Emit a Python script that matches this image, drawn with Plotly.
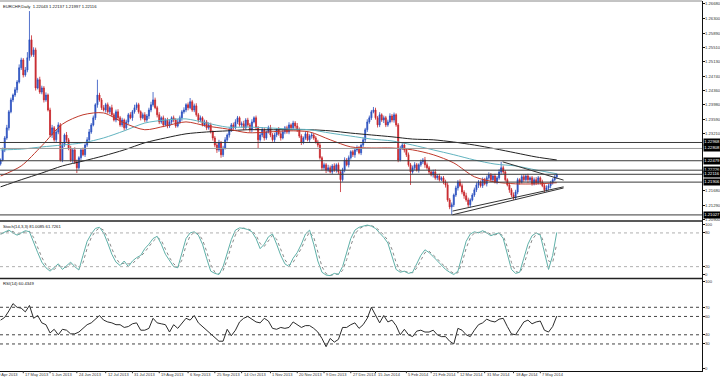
import plotly.graph_objects as go
import pandas as pd

# ---------------- data (prices in pips: 1.2250 -> 12250) ----------------
first_open_pips = 12240
closes_pips = [
    12250,12277,12309,12336,12379,12411,12424,12438,12459,12497,12518,12478,12491,12524,12572,12532,12545,
    12443,12465,12432,12443,12411,12424,12384,12317,12336,12304,12325,12344,12250,12290,12317,12304,12282,
    12250,12277,12245,12229,12256,12277,12264,12290,12304,12325,12344,12363,12398,12424,12411,12390,
    12384,12398,12379,12390,12371,12357,12379,12363,12344,12357,12336,12352,12371,12363,12379,12390,12398,
    12379,12363,12371,12357,12368,12384,12398,12411,12390,12371,12352,12363,12344,12357,12341,12352,12363,
    12357,12341,12352,12363,12379,12384,12398,12390,12406,12384,12395,12371,12357,12363,12344,12352,12336,
    12344,12325,12309,12290,12277,12296,12264,12282,12304,12317,12331,12344,12336,12352,12363,12344,
    12347,12336,12357,12344,12331,12352,12363,12336,12304,12317,12331,12309,12325,12336,12317,12304,12317,
    12331,12320,12309,12325,12336,12325,12344,12336,12349,12341,12331,12314,12298,12309,12320,12304,12314,
    12317,12309,12298,12290,12256,12229,12237,12223,12229,12218,12234,12223,12237,12218,12197,12223,12250,
    12237,12256,12272,12264,12277,12282,12269,12290,12304,12331,12352,12363,12379,12384,12363,12344,
    12371,12357,12363,12344,12352,12368,12357,12371,12344,12250,12282,12290,12277,12264,12237,12218,12229,
    12237,12223,12237,12245,12250,12237,12229,12218,12210,12218,12202,12207,12197,12202,12191,12183,
    12143,12124,12130,12156,12175,12191,12181,12164,12154,12143,12130,12143,12156,12170,12183,12191,12181,
    12197,12186,12202,12210,12197,12207,12191,12202,12218,12229,12218,12197,12183,12170,12156,12148,12164,
    12197,12191,12205,12197,12207,12197,12202,12186,12197,12189,12202,12191,12181,12170,12175,12181,12189,
    12197,12204.3,12211.6,
]
upper_wick_pips = [
    4,6,5,8,5,6,4,7,5,9,6,5,8,15,77,12,7,6,5,8,
    6,5,7,4,6,8,5,6,7,5,6,4,8,5,6,5,7,6,4,5,
    6,5,7,8,5,6,4,41,6,5,7,5,6,4,8,5,6,7,5,6,
    4,6,5,7,5,8,6,5,4,6,7,5,6,8,21,6,5,7,4,6,
    5,6,7,4,6,5,8,6,5,7,4,6,10,5,6,7,5,6,4,6,
    5,7,6,4,5,6,8,5,6,7,4,6,5,6,7,5,4,6,8,5,
    6,5,7,4,6,5,6,7,5,4,6,8,5,6,4,7,5,6,5,6,
    7,4,6,5,8,6,5,4,6,7,5,6,4,5,6,7,4,6,5,8,
    6,5,7,4,6,5,6,7,5,6,4,5,6,7,5,4,6,5,7,6,
    5,8,6,5,7,4,6,5,6,7,5,6,4,5,6,5,7,4,6,5,
    6,7,5,4,6,5,8,6,5,4,6,7,5,6,4,5,6,7,5,6,
    4,6,5,7,6,5,8,6,4,5,6,7,5,4,6,5,6,7,5,4,
    6,5,7,16,6,5,4,6,5,7,6,5,4,6,7,5,6,4,5,6,
    7,5,4,6,5,7,6,5,4,6,2,
]
lower_wick_pips = [
    5,4,6,5,7,4,6,5,8,4,6,7,5,6,8,5,6,7,4,5,
    6,7,5,4,6,8,5,7,6,4,6,5,7,6,5,8,6,14,5,6,
    4,6,5,7,5,4,6,8,5,6,4,7,5,6,5,4,6,7,5,6,
    7,5,6,4,8,5,6,5,7,4,6,5,8,6,5,4,7,6,5,6,
    4,6,5,7,6,5,4,6,8,5,6,7,4,5,6,5,7,6,4,5,
    6,5,4,7,6,8,5,8,6,4,5,7,6,5,4,6,5,7,6,4,
    5,6,7,4,6,22,5,6,7,5,4,6,5,8,6,5,7,4,6,5,
    6,5,4,7,6,5,8,6,5,4,6,7,5,4,6,5,7,6,8,5,
    4,6,5,7,6,33,5,6,4,7,5,6,8,5,4,6,5,7,6,5,
    6,4,5,7,6,5,8,6,5,4,6,7,5,6,4,5,7,6,5,35,
    5,6,4,7,5,6,8,5,6,4,7,5,6,5,4,6,7,5,6,21,
    6,5,7,4,6,8,5,6,7,4,5,6,8,5,6,4,7,5,6,5,
    4,6,5,7,6,5,4,8,6,5,5,6,7,4,6,5,8,6,5,4,
    6,5,7,4,6,5,6,7,5,4,5,
]

# moving averages, read every 10 bars
ma_idx = list(range(0, 271, 10))
red_ma_pips = [12207,12234,12288,12346,12371,12376,12349,12331,12341,12352,12341,12333,12323,12325,
               12328,12325,12304,12285,12282,12282,12277,12264,12242,12205,12191,12186,12186,12189]
teal_ma_pips = [12277,12279,12285,12290,12296,12309,12328,12349,12357,12360,12349,12338,12338,12336,
                12333,12331,12322,12314,12306,12301,12290,12277,12264,12250,12239,12234,12223,12213]
black_ma_pips = [12178,12197,12215,12234,12247,12261,12277,12296,12309,12320,12325,12328,12331,12331,
                 12331,12331,12328,12322,12317,12312,12306,12304,12298,12290,12280,12269,12258,12250]

# oscillators, read every 2 bars
osc_idx = list(range(0, 271, 2))
stoch_main = [78,82,85,80,76,80,84,82,62,45, 28,18,12,18,25,15,22,28,20,14,
              40,65,78,88,90,80,62,42,28,22, 30,20,30,36,40,52,60,70,74,60,
              42,30,20,18,45,70,80,82,76,60, 35,12,8,6,20,45,68,85,89,88,
              86,82,70,52,60,73,78,60,40,25, 20,35,45,60,78,85,60,30,10,5,
              4,8,6,20,45,70,85,90,92,94, 92,88,80,72,62,40,15,10,12,8,
              10,25,40,50,45,38,30,22,15,10, 6,12,40,65,78,82,80,84,80,75,
              78,80,70,40,15,8,10,35,60,75, 80,76,45,15,40,81]
rsi_vals = [56,59,66,74,70,69,65,72,58,61, 53,51,42,46,40,46,45,41,41,43,
            47,51,53,57,61,56,54,53,51,51, 48,49,52,53,45,45,47,58,53,52,
            51,43,51,47,52,58,56,61,53,49, 44,40,37,33,33,46,39,45,54,58,
            60,57,54,53,58,55,47,46,48,47, 48,54,51,48,50,50,47,43,36,27,
            36,32,35,48,48,51,53,47,51,58, 70,62,53,61,54,56,50,40,46,40,
            38,44,45,43,43,45,40,38,38,33, 30,47,45,40,38,45,51,53,57,55,
            54,57,58,49,41,40,47,54,56,52, 54,55,45,43,49,60.4]

# horizontal levels drawn on the chart
level_prices = [1.22968, 1.22808, 1.22479, 1.22226, 1.22116, 1.21906, 1.21027]
level_labels = ["1.22968", "1.22808", "1.22479", "1.22226", "1.22116", "1.21906", "1.21027"]

# triangle trendlines (bar index, price)
tl_upper_x, tl_upper_y = [243.7, 273.3], [1.22450, 1.21960]
tl_low_a_x, tl_low_a_y = [219.4, 273.3], [1.21130, 1.21780]
tl_low_b_x, tl_low_b_y = [219.4, 273.3], [1.21030, 1.21750]

price_ticks = [1.2668, 1.2630, 1.2589, 1.2551, 1.2513, 1.2474, 1.2436, 1.2398, 1.2359,
               1.2321, 1.2168, 1.2129, 1.2090]
price_tick_text = ["1.26680", "1.26300", "1.25890", "1.25510", "1.25130", "1.24740", "1.24360",
                   "1.23980", "1.23590", "1.23210", "1.21680", "1.21290", "1.20900"]
stoch_ticks, stoch_tick_text = [6.4, 20, 80, 94.7], ["0", "20", "80", "100"]
rsi_ticks, rsi_tick_text = [2.7, 30, 40, 60, 70, 97.6], ["0", "30", "40", "60", "70", "100"]

date_tick_idx = [-3, 11, 24, 37, 51, 64, 77, 91, 104, 117, 131, 144, 157, 170, 182, 197, 209, 222, 235, 249, 262]
date_tick_text = ["29 Apr 2013", "17 May 2013", "5 Jun 2013", "24 Jun 2013", "12 Jul 2013", "31 Jul 2013",
                  "19 Aug 2013", "6 Sep 2013", "25 Sep 2013", "14 Oct 2013", "1 Nov 2013", "20 Nov 2013",
                  "9 Dec 2013", "27 Dec 2013", "15 Jan 2014", "5 Feb 2014", "21 Feb 2014", "12 Mar 2014",
                  "31 Mar 2014", "18 Apr 2014", "7 May 2014"]

title_text = "EURCHF,Daily  1.22043 1.22137 1.21997 1.22116"
stoch_text = "Stoch(14,3,3) 81.0085 61.7261"
rsi_text = "RSI(14) 60.4349"

# ---------------- build ----------------
closes = [c / 10000 for c in closes_pips]
opens = [first_open_pips / 10000] + closes[:-1]
highs = [max(o, c) + u / 10000 for o, c, u in zip(opens, closes, upper_wick_pips)]
lows = [min(o, c) - w / 10000 for o, c, w in zip(opens, closes, lower_wick_pips)]
bar_idx = list(range(len(closes)))

stoch_signal = pd.Series(stoch_main).rolling(2, min_periods=1).mean().tolist()

FONT = "Liberation Sans"
BLUE = "#2a4fbf"
RED = "#c8262b"
SZ = 4.2
X_MIN, X_MAX = -0.3, 340.5

fig = go.Figure()
fig.add_trace(go.Candlestick(
    x=bar_idx, open=opens, high=highs, low=lows, close=closes,
    increasing=dict(line=dict(color=BLUE, width=0.8), fillcolor=BLUE),
    decreasing=dict(line=dict(color=RED, width=0.8), fillcolor=RED),
    whiskerwidth=0, hoverinfo="skip", showlegend=False, xaxis="x", yaxis="y"))

for vals, col in [(black_ma_pips, "#222222"), (teal_ma_pips, "#62b4c0"), (red_ma_pips, "#c0392b")]:
    fig.add_trace(go.Scatter(x=ma_idx, y=[v / 10000 for v in vals], mode="lines",
                             line=dict(color=col, width=1, shape="spline", smoothing=0.8),
                             hoverinfo="skip", showlegend=False, xaxis="x", yaxis="y"))

for tx, ty in [(tl_upper_x, tl_upper_y), (tl_low_a_x, tl_low_a_y), (tl_low_b_x, tl_low_b_y)]:
    fig.add_trace(go.Scatter(x=tx, y=ty, mode="lines", line=dict(color="#333333", width=1),
                             hoverinfo="skip", showlegend=False, xaxis="x", yaxis="y"))

fig.add_trace(go.Scatter(x=osc_idx, y=stoch_signal, mode="lines",
                         line=dict(color="#888888", width=1, dash="dot"),
                         hoverinfo="skip", showlegend=False, xaxis="x", yaxis="y2"))
fig.add_trace(go.Scatter(x=osc_idx, y=stoch_main, mode="lines",
                         line=dict(color="#5fb0a8", width=1),
                         hoverinfo="skip", showlegend=False, xaxis="x", yaxis="y2"))
fig.add_trace(go.Scatter(x=osc_idx, y=rsi_vals, mode="lines",
                         line=dict(color="#2b2b2b", width=1),
                         hoverinfo="skip", showlegend=False, xaxis="x", yaxis="y3"))

shapes = []
for p in level_prices:
    col = "#9a9a9a" if p == 1.22808 else "#3a3a3a"
    shapes.append(dict(type="line", xref="paper", x0=0, x1=1, yref="y", y0=p, y1=p,
                       line=dict(color=col, width=1)))
for v in [20, 80]:
    shapes.append(dict(type="line", xref="paper", x0=0, x1=1, yref="y2", y0=v, y1=v,
                       line=dict(color="#b0b0b0", width=1, dash="dot")))
for v in [30, 40, 60, 70]:
    shapes.append(dict(type="line", xref="paper", x0=0, x1=1, yref="y3", y0=v, y1=v,
                       line=dict(color="#444444", width=1, dash="dot")))
for yp, col, w in [(0.4054, "#222222", 1.5), (0.25, "#222222", 1.5), (1.0, "#888888", 1)]:
    shapes.append(dict(type="line", xref="paper", x0=0, x1=1, yref="paper", y0=yp, y1=yp,
                       line=dict(color=col, width=w)))
# small date tick marks under the bottom pane
for i in date_tick_idx:
    if i >= X_MIN:
        shapes.append(dict(type="line", xref="x", x0=i, x1=i, yref="paper", y0=0, y1=-0.006,
                           line=dict(color="#333333", width=1)))

annotations = []
label_font = dict(family=FONT, size=SZ, color="#333333")
for yref, vals, texts in [("y", price_ticks, price_tick_text), ("y2", stoch_ticks, stoch_tick_text),
                          ("y3", rsi_ticks, rsi_tick_text)]:
    for v, t in zip(vals, texts):
        annotations.append(dict(xref="paper", x=1, xanchor="left", xshift=1.5, yref=yref, y=v,
                                text=t, showarrow=False, font=label_font, borderpad=0))
for p, t in zip(level_prices, level_labels):
    annotations.append(dict(xref="paper", x=1, xanchor="left", xshift=1, yref="y", y=p,
                            text=t, showarrow=False, bgcolor="#000000",
                            font=dict(family=FONT, size=SZ, color="white"), borderpad=0.3))
for i, t in zip(date_tick_idx, date_tick_text):
    # the first label lies left of the visible range and is shown clipped at the left edge
    xpos = (i - X_MIN) / (X_MAX - X_MIN)
    annotations.append(dict(xref="paper", x=max(xpos, 0), xanchor="left",
                            xshift=1 + min(xpos, 0) * 702, yref="paper", y=0,
                            yanchor="top", yshift=0, text=t, showarrow=False, borderpad=0,
                            font=dict(family=FONT, size=4, color="#333333")))
for txt, yp in [(title_text, 1.0), (stoch_text, 0.4054), (rsi_text, 0.25)]:
    annotations.append(dict(xref="paper", x=0, xanchor="left", xshift=2, yref="paper", y=yp,
                            yanchor="top", yshift=-1.5, text=txt, showarrow=False, borderpad=0,
                            font=dict(family=FONT, size=SZ, color="#111111")))

common_y = dict(side="right", showgrid=False, zeroline=False, showline=True, linecolor="#111111",
                linewidth=1, ticks="outside", ticklen=2, tickcolor="#111111", showticklabels=False,
                fixedrange=True, anchor="x", automargin=False)

fig.update_layout(
    width=720, height=377, margin=dict(l=0, r=18, t=1, b=6, autoexpand=False),
    paper_bgcolor="white", plot_bgcolor="white", showlegend=False,
    xaxis=dict(range=[X_MIN, X_MAX], showticklabels=False, showgrid=False, zeroline=False,
               rangeslider=dict(visible=False), anchor="y3", showline=True, linecolor="#111111",
               linewidth=1, fixedrange=True, automargin=False),
    yaxis=dict(domain=[0.4054, 1], range=[1.20864, 1.26760], tickvals=price_ticks, **common_y),
    yaxis2=dict(domain=[0.25, 0.4054], range=[-1.1, 101.2], tickvals=stoch_ticks, **common_y),
    yaxis3=dict(domain=[0, 0.25], range=[0.5, 101.4], tickvals=rsi_ticks, **common_y),
    shapes=shapes, annotations=annotations,
)

fig.write_html("out.html", config={"displayModeBar": False},
               post_script="document.body.style.margin='0';document.body.style.overflow='hidden';")
